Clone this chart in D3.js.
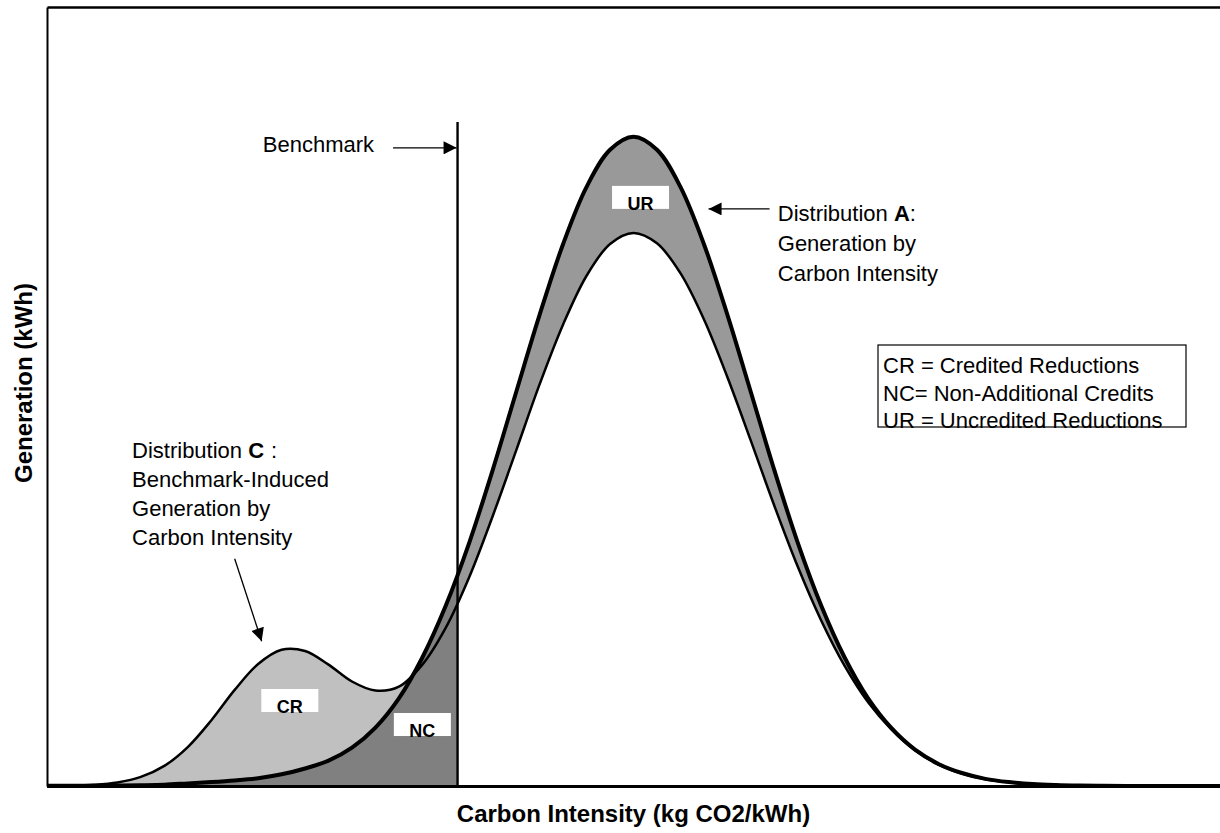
<!DOCTYPE html>
<html>
<head>
<meta charset="utf-8">
<script src="https://cdn.jsdelivr.net/npm/d3@7"></script>
<style>
  html, body { margin: 0; padding: 0; background: #fff; }
  svg { display: block; }
  text { font-family: 'Liberation Sans', Arial, sans-serif; fill: #000; }
</style>
</head>
<body>
<div id="chart"></div>
<script>
'use strict';

// carbon intensity, arbitrary units (the axis has no ticks)
const intensity = [0, 2, 4, 6, 8, 10, 12, 14, 16, 18, 20, 22, 24, 26, 28, 30, 32, 34, 36, 38, 40,
  42, 44, 46, 48, 50, 52, 54, 56, 58, 60, 62, 64, 66, 68, 70, 72, 74, 76, 78, 80,
  82, 84, 86, 88, 90, 92, 94, 96, 98, 100];

// Distribution A: generation by carbon intensity
const genA = [0.02, 0.03, 0.05, 0.08, 0.12, 0.2, 0.4, 0.6, 0.85, 1.2, 1.8, 2.7, 3.9, 5.9, 9.0, 13.5, 19.8, 27.8, 37.5, 48.7, 60.7,
  72.6, 83.5, 92.3, 98.0, 100, 98.0, 92.3, 83.5, 72.6, 60.7, 48.7, 37.5, 27.8, 19.8, 13.5, 8.9, 5.6, 3.4, 2.0, 1.1,
  0.6, 0.3, 0.15, 0.07, 0.03, 0, 0, 0, 0, 0];

// Distribution C: benchmark-induced generation by carbon intensity
const genC = [0.01, 0.05, 0.19, 0.55, 1.4, 3.1, 6.0, 10.1, 14.8, 18.8, 21.0, 20.8, 18.7, 16.1, 14.7, 15.3, 18.7, 24.4, 32.2, 41.6, 51.7,
  61.9, 71.1, 78.6, 83.5, 85.2, 83.6, 79.0, 71.9, 63.0, 53.2, 43.2, 33.8, 25.5, 18.5, 12.9, 8.7, 5.5, 3.3, 1.9, 1.05,
  0.57, 0.29, 0.14, 0.06, 0.02, 0, 0, 0, 0, 0];

const benchmark = 35;

const regionLabels = ['CR', 'NC', 'UR'];
const legendLines = ['CR = Credited Reductions', 'NC= Non-Additional Credits', 'UR = Uncredited Reductions'];

const width = 1220;
const height = 833;

const x = d3.scaleLinear([0, 100], [47, 1220]);
const y = d3.scaleLinear([0, 120], [786, 7]);

const rows = intensity.map((v, i) => ({ x: v, a: genA[i], c: genC[i] }));

const svg = d3.select('#chart')
  .append('svg')
  .attr('width', width)
  .attr('height', height)
  .attr('viewBox', [0, 0, width, height]);

const defs = svg.append('defs');

defs.append('clipPath')
  .attr('id', 'nc-clip')
  .append('rect')
  .attr('x', x(0))
  .attr('y', 0)
  .attr('width', x(benchmark) - x(0))
  .attr('height', y(0));

defs.append('marker')
  .attr('id', 'head')
  .attr('viewBox', '0 0 10 10')
  .attr('refX', 10)
  .attr('refY', 5)
  .attr('markerWidth', 15)
  .attr('markerHeight', 13)
  .attr('markerUnits', 'userSpaceOnUse')
  .attr('orient', 'auto')
  .append('path')
  .attr('d', 'M0,0L10,5L0,10Z')
  .attr('fill', '#000');

const curve = d3.curveCatmullRom;

const urArea = d3.area()
  .x((d) => x(d.x))
  .y0((d) => y(d.c))
  .y1((d) => y(Math.max(d.a, d.c)))
  .curve(curve);

const crArea = d3.area()
  .x((d) => x(d.x))
  .y0((d) => y(d.a))
  .y1((d) => y(Math.max(d.a, d.c)))
  .curve(curve);

const ncArea = d3.area()
  .x((d) => x(d.x))
  .y0(y(0))
  .y1((d) => y(d.a))
  .curve(curve);

const lineA = d3.line().x((d) => x(d.x)).y((d) => y(d.a)).curve(curve);
const lineC = d3.line().x((d) => x(d.x)).y((d) => y(d.c)).curve(curve);

svg.append('path').attr('d', urArea(rows)).attr('fill', '#999999');
svg.append('path').attr('d', crArea(rows)).attr('fill', '#c0c0c0');
svg.append('path').attr('d', ncArea(rows)).attr('fill', '#808080').attr('clip-path', 'url(#nc-clip)');

// frame: left, top and bottom lines only
const noTicks = (axis) => axis.tickValues([]).tickSizeOuter(0);

svg.append('g')
  .attr('transform', `translate(0, ${y(0)})`)
  .call(noTicks(d3.axisBottom(x)))
  .call((g) => g.select('.domain').attr('stroke-width', 3));

svg.append('g')
  .attr('transform', `translate(0, ${y(120)})`)
  .call(noTicks(d3.axisTop(x)))
  .call((g) => g.select('.domain').attr('stroke-width', 2.5));

svg.append('g')
  .attr('transform', `translate(${x(0)}, 0)`)
  .call(noTicks(d3.axisLeft(y)))
  .call((g) => g.select('.domain').attr('stroke-width', 2));

// benchmark line
svg.append('line')
  .attr('x1', x(benchmark)).attr('x2', x(benchmark))
  .attr('y1', y(102.3)).attr('y2', y(0))
  .attr('stroke', '#000')
  .attr('stroke-width', 2.4);

svg.append('path').attr('d', lineC(rows)).attr('fill', 'none').attr('stroke', '#000').attr('stroke-width', 2.5);
svg.append('path').attr('d', lineA(rows)).attr('fill', 'none').attr('stroke', '#000').attr('stroke-width', 4);

// region labels in white boxes
const labelSpots = { CR: [20.7, 11.4], NC: [32.0, 7.7], UR: [50.6, 88.9] };
const boxW = 57;
const boxH = 23;

const labels = svg.append('g')
  .selectAll('g')
  .data(regionLabels)
  .join('g')
  .attr('transform', (d) => `translate(${x(labelSpots[d][0])}, ${y(labelSpots[d][1])})`);

labels.append('rect')
  .attr('x', -boxW / 2)
  .attr('y', -boxH)
  .attr('width', boxW)
  .attr('height', boxH)
  .attr('fill', '#fff');

labels.append('text')
  .attr('text-anchor', 'middle')
  .attr('y', 1)
  .style('font-size', '18px')
  .style('font-weight', 'bold')
  .text((d) => d);

// annotations
const annoSize = '22px';

svg.append('text')
  .attr('x', x(18.4))
  .attr('y', y(97.66))
  .style('font-size', annoSize)
  .text('Benchmark');

svg.append('line')
  .attr('x1', x(29.5)).attr('y1', y(98.3))
  .attr('x2', x(benchmark) - 1).attr('y2', y(98.3))
  .attr('stroke', '#000')
  .attr('stroke-width', 1.3)
  .attr('marker-end', 'url(#head)');

const distA = svg.append('text')
  .attr('x', x(62.3))
  .attr('y', y(87.0))
  .style('font-size', annoSize);
distA.append('tspan').text('Distribution ');
distA.append('tspan').style('font-weight', 'bold').text('A');
distA.append('tspan').text(':');
distA.append('tspan').attr('x', x(62.3)).attr('dy', 30).text('Generation by');
distA.append('tspan').attr('x', x(62.3)).attr('dy', 30).text('Carbon Intensity');

svg.append('line')
  .attr('x1', x(61.6)).attr('y1', y(88.9))
  .attr('x2', x(56.4)).attr('y2', y(88.9))
  .attr('stroke', '#000')
  .attr('stroke-width', 1.3)
  .attr('marker-end', 'url(#head)');

const distC = svg.append('text')
  .attr('x', x(7.25))
  .attr('y', y(50.5))
  .style('font-size', annoSize);
distC.append('tspan').text('Distribution ');
distC.append('tspan').style('font-weight', 'bold').text('C');
distC.append('tspan').attr('dx', 7).text(':');
['Benchmark-Induced', 'Generation by', 'Carbon Intensity'].forEach((t) => {
  distC.append('tspan').attr('x', x(7.25)).attr('dy', 29).text(t);
});

svg.append('line')
  .attr('x1', x(16.0)).attr('y1', y(35.0))
  .attr('x2', x(18.3)).attr('y2', y(22.3))
  .attr('stroke', '#000')
  .attr('stroke-width', 1.3)
  .attr('marker-end', 'url(#head)');

// legend box
const legend = svg.append('g').attr('transform', 'translate(878, 345)');

legend.append('rect')
  .attr('width', 308)
  .attr('height', 82)
  .attr('fill', '#fff')
  .attr('stroke', '#000')
  .attr('stroke-width', 1.2);

legend.selectAll('text')
  .data(legendLines)
  .join('text')
  .attr('x', 5)
  .attr('y', (d, i) => 28 + i * 27.5)
  .style('font-size', annoSize)
  .text((d) => d);

// axis titles
svg.append('text')
  .attr('x', (x(0) + x(100)) / 2)
  .attr('y', 822)
  .attr('text-anchor', 'middle')
  .style('font-size', '24px')
  .style('font-weight', 'bold')
  .text('Carbon Intensity (kg CO2/kWh)');

svg.append('text')
  .attr('transform', 'translate(32, 383) rotate(-90)')
  .attr('text-anchor', 'middle')
  .style('font-size', '24px')
  .style('font-weight', 'bold')
  .text('Generation (kWh)');
</script>
</body>
</html>
